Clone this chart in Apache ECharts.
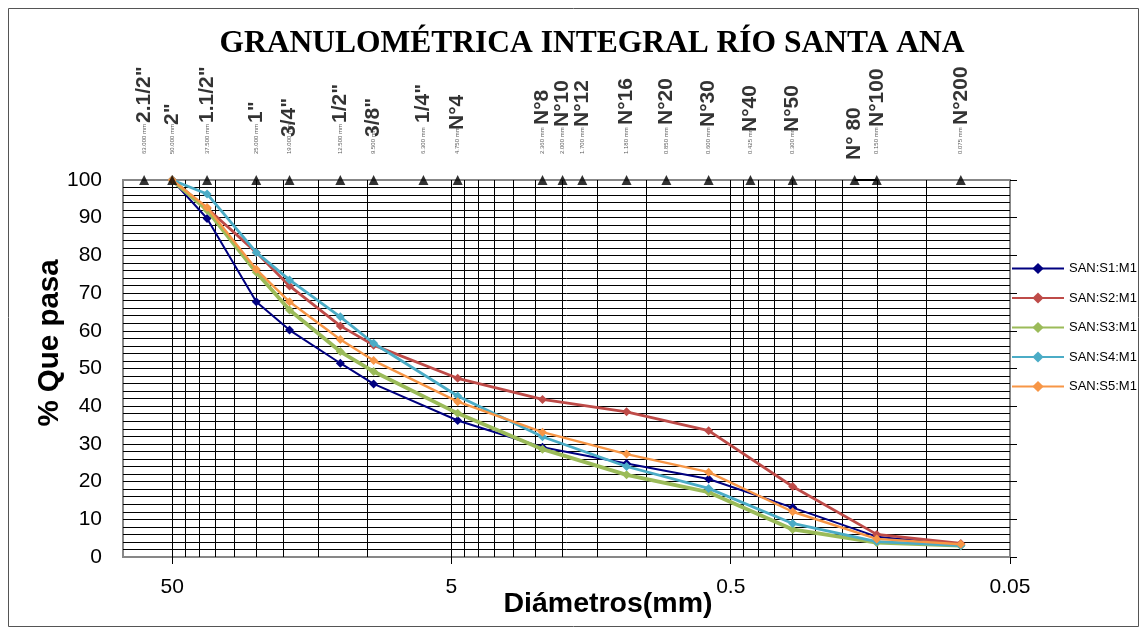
<!DOCTYPE html>
<html>
<head>
<meta charset="utf-8">
<script src="https://cdn.jsdelivr.net/npm/echarts@6/dist/echarts.min.js"></script>
<style>
html,body{margin:0;padding:0;background:#fff;}
#chart{width:1147px;height:635px;}
</style>
</head>
<body>
<div id="chart"></div>
<script>
// ---- data ----
const sieveLabels = ['2.1/2"', '2"', '1.1/2"', '1"', '3/4"', '1/2"', '3/8"', '1/4"', 'N°4', 'N°8', 'N°10', 'N°12', 'N°16', 'N°20', 'N°30', 'N°40', 'N°50', 'N° 80', 'N°100', 'N°200'];
const sieveSizes = [63, 50, 37.5, 25, 19, 12.5, 9.5, 6.3, 4.75, 2.36, 2.0, 1.7, 1.18, 0.85, 0.6, 0.425, 0.3, 0.18, 0.15, 0.075];
const sieveMm = ['63.000 mm', '50.000 mm', '37.500 mm', '25.000 mm', '19.000 mm', '12.500 mm', '9.500 mm', '6.300 mm', '4.750 mm', '2.360 mm', '2.000 mm', '1.700 mm', '1.180 mm', '0.850 mm', '0.600 mm', '0.425 mm', '0.300 mm', '', '0.150 mm', '0.075 mm'];
const linkedSieves = [0.18, 0.15];

const sampleSizes = [50, 37.5, 25, 19, 12.5, 9.5, 4.75, 2.36, 1.18, 0.6, 0.3, 0.15, 0.075];
const seriesNames = ['SAN:S1:M1', 'SAN:S2:M1', 'SAN:S3:M1', 'SAN:S4:M1', 'SAN:S5:M1'];
const s1 = [100, 89.8, 67.7, 60.2, 51.4, 45.9, 36.2, 29.1, 24.8, 20.7, 13.1, 5.4, 3.2];
const s2 = [100, 92.5, 80.8, 71.9, 61.3, 56.2, 47.4, 41.8, 38.5, 33.5, 18.7, 6.0, 3.6];
const s3 = [100, 92.0, 75.5, 65.5, 54.5, 49.2, 38.1, 28.6, 21.8, 17.2, 7.3, 3.8, 3.0];
const s4 = [100, 96.3, 80.8, 73.5, 63.7, 56.7, 42.7, 31.9, 24.0, 18.2, 8.9, 4.1, 3.0];
const s5 = [100, 92.7, 76.3, 67.7, 57.7, 52.1, 41.2, 33.1, 27.3, 22.5, 12.0, 4.8, 3.4];

const xTickValues = [50, 5, 0.5, 0.05];
const xMin = 0.05, xMax = 75;
const decadeBases = [5, 0.5, 0.05];
const yTickLabels = [0, 10, 20, 30, 40, 50, 60, 70, 80, 90, 100];

// ---- style ----
const FONT = "'Liberation Sans', Arial, sans-serif";
const colors = ['#000080', '#BE4B48', '#9BBB59', '#4BACC6', '#F79646'];
const widths = [2, 2.8, 3.8, 2.8, 2.4];
const labelLayout = {
  symbolTop: 175,
  defaultBottom: 125,
  bottoms: {'2.1/2"': 123, '1.1/2"': 123, '1"': 123, '3/4"': 137, '1/2"': 123, '3/8"': 137, '1/4"': 123,
            'N°4': 130, 'N°10': 127, 'N°12': 127, 'N°30': 127, 'N°40': 132, 'N°50': 132, 'N° 80': 160, 'N°100': 127},
  mmBottom: 160,
  mmShift: 6
};

// vertical grid values: major ticks + k-multiples inside each decade
const gridX = [50];
decadeBases.forEach(b => { for (let k = 2; k <= 9; k++) gridX.push(+(b * k).toPrecision(6)); });
gridX.push(5, 0.5);

const tickLogs = xTickValues.map(v => Math.log10(v));

const lineSeries = [s1, s2, s3, s4, s5].map((vals, i) => ({
  name: seriesNames[i],
  type: 'line',
  xAxisIndex: 0, yAxisIndex: 0,
  data: sampleSizes.map((s, j) => [s, vals[j]]),
  symbol: 'diamond',
  symbolSize: 9,
  clip: false,
  z: 3 + i,
  itemStyle: {color: colors[i]},
  lineStyle: {color: colors[i], width: widths[i]}
}));

lineSeries[0].markLine = {
  silent: true,
  z: 1,
  symbol: ['none', 'none'],
  label: {show: false},
  lineStyle: {color: '#000', width: 1, type: 'solid'},
  emphasis: {disabled: true},
  data: gridX.map(v => ({xAxis: v}))
};

const option = {
  animation: false,
  backgroundColor: '#fff',
  textStyle: {fontFamily: FONT},
  grid: {left: 123, right: 137, top: 180, bottom: 78, show: true, borderColor: '#878787', borderWidth: 2, backgroundColor: '#fff'},
  legend: {
    orient: 'vertical',
    left: 1006, top: 257,
    itemWidth: 52, itemHeight: 14, itemGap: 16.5,
    data: seriesNames,
    textStyle: {fontSize: 13, color: '#000', fontFamily: FONT}
  },
  xAxis: [
    {type: 'log', min: xMin, max: xMax, inverse: true, position: 'top',
     axisLine: {show: false}, axisTick: {show: false}, axisLabel: {show: false},
     splitLine: {show: false}, minorSplitLine: {show: false}},
    {type: 'value', min: Math.log10(xMin), max: Math.log10(xMax), inverse: true, position: 'bottom',
     axisLine: {show: false},
     axisTick: {show: true, customValues: tickLogs, length: 7, lineStyle: {color: '#000', width: 1}},
     axisLabel: {customValues: tickLogs, fontSize: 21, color: '#000', margin: 20, fontFamily: FONT,
                 formatter: v => String(Number(Math.pow(10, v).toPrecision(6)))},
     splitLine: {show: false}}
  ],
  yAxis: [
    {type: 'value', min: 0, max: 100, interval: 10, position: 'left',
     axisLine: {show: false}, axisTick: {show: false},
     axisLabel: {fontSize: 21, color: '#000', margin: 21, fontFamily: FONT,
                 formatter: v => String(yTickLabels[Math.round(v / 10)])},
     splitLine: {show: true, showMinLine: false, showMaxLine: false, lineStyle: {color: '#000', width: 1}},
     minorTick: {show: false, splitNumber: 5},
     minorSplitLine: {show: true, lineStyle: {color: '#000', width: 1}}},
    {type: 'value', min: 0, max: 100, interval: 10, position: 'right',
     axisLine: {show: false}, axisLabel: {show: false},
     axisTick: {show: true, length: 7, lineStyle: {color: '#000', width: 1}},
     splitLine: {show: false}}
  ],
  graphic: [
    {type: 'rect', shape: {x: 8.5, y: 8.5, width: 1130, height: 618}, style: {fill: 'none', stroke: '#555', lineWidth: 1}, z: -10},
    {type: 'text', x: 592, y: 44, style: {text: 'GRANULOMÉTRICA INTEGRAL RÍO SANTA ANA', fontFamily: "'Liberation Serif', 'Times New Roman', serif", fontWeight: 'bold', fontSize: 31.5, fill: '#000', align: 'center', verticalAlign: 'middle'}},
    {type: 'text', x: 50, y: 343, rotation: Math.PI / 2, style: {text: '% Que pasa', fontFamily: FONT, fontWeight: 'bold', fontSize: 29.5, fill: '#000', align: 'center', verticalAlign: 'middle'}},
    {type: 'text', x: 608, y: 604, style: {text: 'Diámetros(mm)', fontFamily: FONT, fontWeight: 'bold', fontSize: 28.5, fill: '#000', align: 'center', verticalAlign: 'middle'}}
  ],
  series: lineSeries.concat([
    {
      name: 'link', type: 'line', xAxisIndex: 0, yAxisIndex: 0, z: 9,
      data: linkedSieves.map(s => [s, 100]), symbol: 'none', clip: false,
      lineStyle: {color: '#000', width: 2}, silent: true
    },
    {
      name: 'tamices', type: 'scatter', xAxisIndex: 0, yAxisIndex: 0, z: 10,
      symbol: 'triangle', symbolSize: 10, clip: false, silent: true,
      itemStyle: {color: '#000'},
      data: sieveSizes.map((s, i) => {
        const name = sieveLabels[i];
        const bottom = labelLayout.bottoms[name] != null ? labelLayout.bottoms[name] : labelLayout.defaultBottom;
        return {value: [s, 100], label: {distance: labelLayout.symbolTop - bottom}};
      }),
      label: {
        show: true, position: 'top', rotate: 90, align: 'left', verticalAlign: 'middle',
        fontFamily: FONT, fontWeight: 'bold', fontSize: 21, color: '#000',
        formatter: p => sieveLabels[p.dataIndex]
      }
    },
    {
      name: 'mm', type: 'scatter', xAxisIndex: 0, yAxisIndex: 0, z: 10,
      symbol: 'triangle', symbolSize: 10, clip: false, silent: true,
      itemStyle: {color: 'rgba(0,0,0,0)'},
      data: sieveSizes.map(s => [s, 100]),
      label: {
        show: true, position: 'top', rotate: 90, align: 'left', verticalAlign: 'middle',
        distance: labelLayout.symbolTop - labelLayout.mmBottom, offset: [labelLayout.mmShift, 0],
        fontFamily: FONT, fontSize: 6, color: '#333',
        formatter: p => sieveMm[p.dataIndex]
      }
    }
  ])
};

const chart = echarts.init(document.getElementById('chart'), null, {renderer: 'canvas'});
chart.setOption(option);
</script>
</body>
</html>
